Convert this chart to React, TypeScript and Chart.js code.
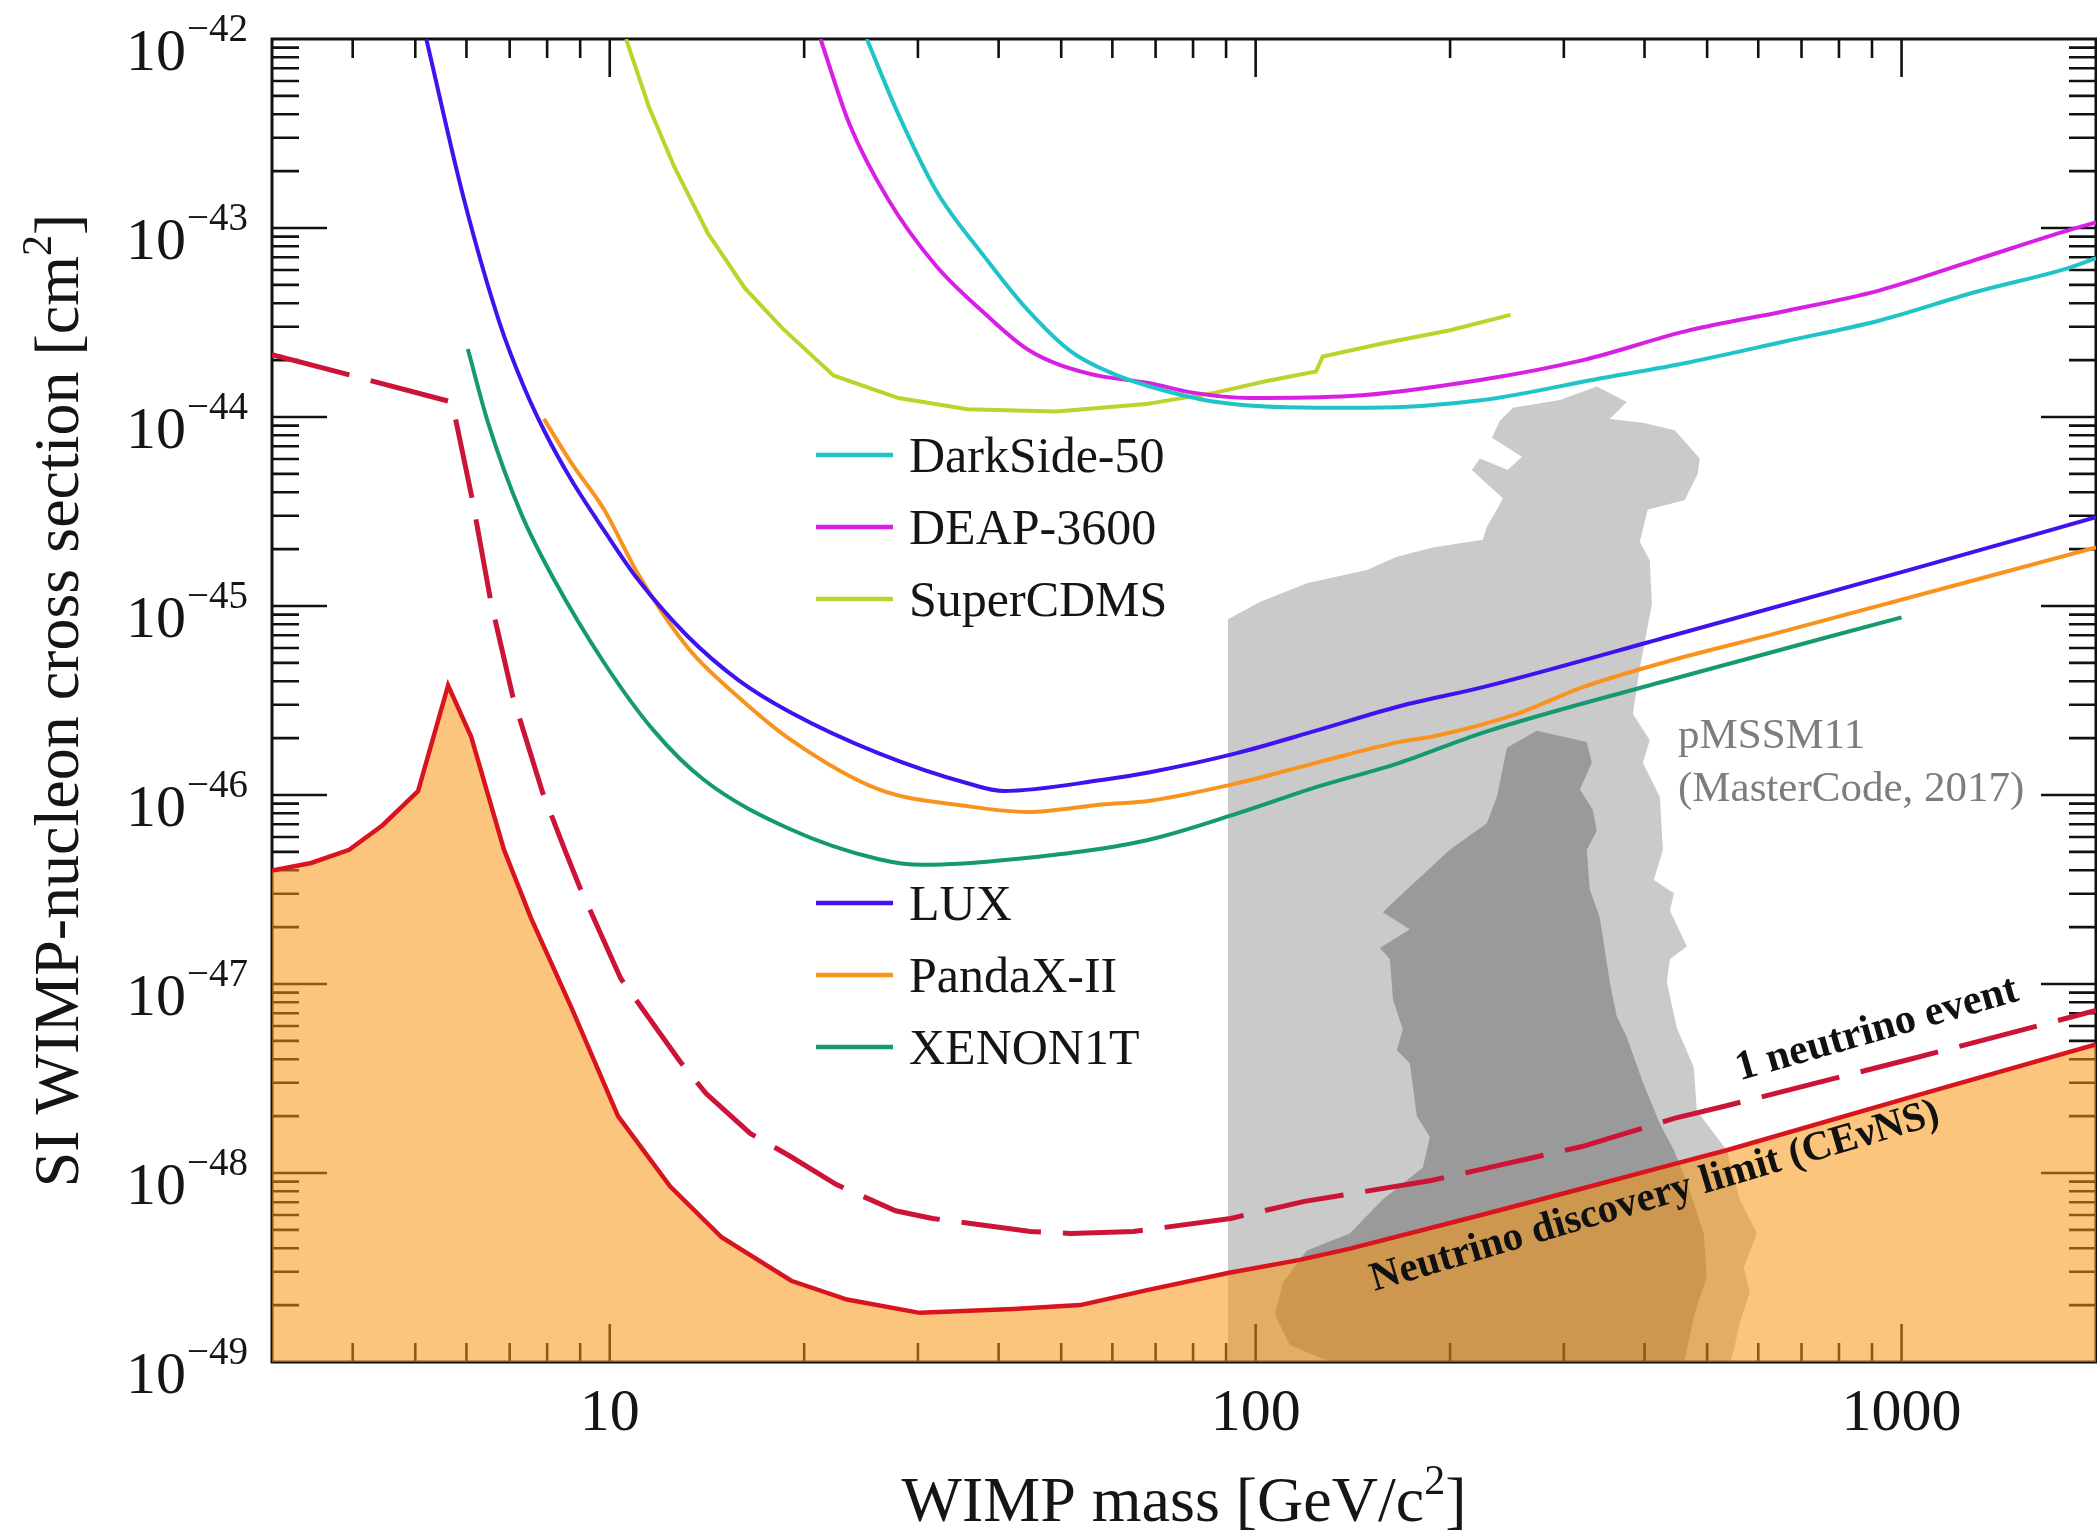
import React, { useEffect, useRef } from "react";
import { Chart, registerables } from "chart.js";

Chart.register(...registerables);

// ---------- axes ----------
const X_RANGE = [3, 2000];
const Y_RANGE = [1e-49, 1e-42];
const X_TICK_VALUES = [10, 100, 1000];
const X_TICK_LABELS = ["10", "100", "1000"];
const Y_TICK_VALUES = [1e-49, 1e-48, 1e-47, 1e-46, 1e-45, 1e-44, 1e-43, 1e-42];
const Y_TICK_EXPONENTS = ["\u221249", "\u221248", "\u221247", "\u221246", "\u221245", "\u221244", "\u221243", "\u221242"];
const X_TITLE = ["WIMP mass [GeV/c", "2", "]"];
const Y_TITLE = ["SI WIMP-nucleon cross section [cm", "2", "]"];

// ---------- experimental limits (mass in GeV/c^2, cross section in cm^2) ----------
const DARKSIDE_MASS = [25.0, 28, 32, 38, 44, 51.6, 60, 68.6, 87, 124, 150, 225, 335, 470, 659, 925, 1298, 1821, 2000];
const DARKSIDE_XSEC = [1.0e-42, 3.98e-43, 1.58e-43, 7.08e-44, 3.8e-44, 2.24e-44, 1.7e-44, 1.45e-44, 1.2e-44, 1.12e-44, 1.12e-44, 1.23e-44, 1.58e-44, 1.95e-44, 2.51e-44, 3.24e-44, 4.57e-44, 6.17e-44, 6.92e-44];

const DEAP_MASS = [21.2, 23.5, 27, 32, 38, 44.7, 55, 68.6, 79.4, 98, 140, 225, 321, 470, 659, 925, 1298, 1821, 2000];
const DEAP_XSEC = [1.0e-42, 3.55e-43, 1.41e-43, 6.31e-44, 3.55e-44, 2.24e-44, 1.7e-44, 1.51e-44, 1.35e-44, 1.26e-44, 1.29e-44, 1.58e-44, 2.0e-44, 2.88e-44, 3.63e-44, 4.68e-44, 6.76e-44, 9.77e-44, 1.07e-43];

const SUPERCDMS_MASS = [10.6, 11.5, 12.6, 14.2, 16.2, 18.5, 22.2, 28, 35.8, 49.2, 67.6, 87, 104, 124, 127, 157, 200, 248];
const SUPERCDMS_XSEC = [1.0e-42, 4.37e-43, 2.09e-43, 9.33e-44, 4.79e-44, 2.95e-44, 1.66e-44, 1.26e-44, 1.1e-44, 1.07e-44, 1.17e-44, 1.35e-44, 1.55e-44, 1.74e-44, 2.09e-44, 2.45e-44, 2.88e-44, 3.47e-44];

const LUX_MASS = [5.2, 5.95, 6.75, 7.36, 7.91, 8.71, 9.8, 11.06, 13.2, 15.8, 19, 26.1, 35.9, 40.7, 57.8, 68.6, 93.2, 124, 167, 225, 438, 1000, 2000];
const LUX_XSEC = [1.0e-42, 1.41e-43, 3.16e-44, 1.45e-44, 8.51e-45, 4.68e-45, 2.51e-45, 1.38e-45, 6.92e-46, 4.07e-46, 2.75e-46, 1.66e-46, 1.15e-46, 1.05e-46, 1.2e-46, 1.32e-46, 1.66e-46, 2.19e-46, 2.95e-46, 3.72e-46, 6.92e-46, 1.51e-45, 2.95e-45];

const PANDAX_MASS = [7.91, 8.71, 9.8, 11.06, 13.2, 15.8, 19.1, 26.1, 35.9, 44.4, 57.8, 68.6, 93.2, 124, 167, 188, 254, 321, 438, 630, 2000];
const PANDAX_XSEC = [9.77e-45, 5.75e-45, 3.24e-45, 1.48e-45, 6.03e-46, 3.31e-46, 1.95e-46, 1.07e-46, 8.71e-47, 8.13e-47, 8.91e-47, 9.33e-47, 1.15e-46, 1.48e-46, 1.91e-46, 2.04e-46, 2.69e-46, 3.72e-46, 5.13e-46, 7.08e-46, 2.04e-45];

const XENON_MASS = [6.03, 6.48, 7.29, 8.2, 9.8, 11.7, 14.0, 19, 26.1, 30.5, 42.1, 67.6, 93.2, 124, 167, 225, 438, 1000];
const XENON_XSEC = [2.29e-44, 9.33e-45, 3.09e-45, 1.38e-45, 5.01e-46, 2.19e-46, 1.2e-46, 6.61e-47, 4.57e-47, 4.27e-47, 4.57e-47, 5.75e-47, 7.94e-47, 1.1e-46, 1.48e-46, 2.14e-46, 4.07e-46, 8.71e-46];

// ---------- neutrino floor ----------
const FLOOR_MASS = [3, 3.45, 3.95, 4.45, 5.05, 5.62, 6.1, 6.86, 7.55, 8.71, 10.3, 12.4, 14.9, 19.1, 23.3, 30.2, 42.1, 53.5, 67.9, 90.2, 117, 140, 225, 314, 438, 536, 1030, 2000];
const FLOOR_XSEC = [3.98e-47, 4.37e-47, 5.13e-47, 6.92e-47, 1.05e-46, 3.8e-46, 2.04e-46, 5.13e-47, 2.24e-47, 7.59e-48, 2.0e-48, 8.51e-49, 4.57e-49, 2.69e-49, 2.14e-49, 1.82e-49, 1.91e-49, 2.0e-49, 2.4e-49, 2.95e-49, 3.47e-49, 3.98e-49, 6.03e-49, 8.13e-49, 1.1e-48, 1.32e-48, 2.51e-48, 4.79e-48];

const ONE_NU_MASS = [3, 5.7, 6.13, 6.54, 7.08, 7.88, 8.52, 8.99, 10.4, 12.85, 14.1, 16.5, 19, 22.4, 27.7, 31.6, 44.8, 51.7, 64.7, 91.5, 119, 187, 320, 446, 528, 1052, 2000];
const ONE_NU_XSEC = [2.14e-44, 1.2e-44, 3.63e-45, 1.07e-45, 3.31e-46, 1.02e-46, 5.13e-47, 3.24e-47, 1.07e-47, 3.89e-48, 2.63e-48, 1.62e-48, 1.23e-48, 8.71e-49, 6.31e-49, 5.75e-49, 4.9e-49, 4.79e-49, 4.9e-49, 5.75e-49, 7.08e-49, 9.12e-49, 1.38e-48, 1.95e-48, 2.24e-48, 4.07e-48, 7.24e-48];

// ---------- pMSSM11 regions (outline vertices) ----------
const PMSSM_OUTER_MASS = [90.6, 90.6, 101.5, 120, 148.6, 165.4, 188.1, 224.7, 228, 236.3, 241.4, 216.1, 222.4, 245.7, 258.3, 232.1, 238.8, 250.2, 295.8, 337.5, 375.5, 353.4, 397.6, 445.6, 487.0, 483.5, 461.6, 404.7, 393.3, 407.6, 410.6, 393.3, 383.7, 407.6, 397.6, 422.5, 427.1, 413.4, 444.2, 437.9, 465.2, 437.9, 433.1, 448.7, 476.7, 482.0, 517.5, 536.3, 561.7, 597.0, 569.8, 582.1, 561.7, 549.9, 542.1];
const PMSSM_OUTER_XSEC = [1.0e-49, 8.51e-46, 1.05e-45, 1.32e-45, 1.55e-45, 1.82e-45, 2.04e-45, 2.24e-45, 2.63e-45, 3.24e-45, 3.72e-45, 5.25e-45, 6.03e-45, 5.25e-45, 6.17e-45, 7.76e-45, 9.55e-45, 1.12e-44, 1.23e-44, 1.45e-44, 1.2e-44, 9.77e-45, 9.33e-45, 8.51e-45, 6.03e-45, 5.01e-45, 3.63e-45, 3.24e-45, 2.19e-45, 1.74e-45, 1.02e-45, 4.68e-46, 2.69e-46, 1.95e-46, 1.48e-46, 9.77e-47, 5.13e-47, 3.55e-47, 3.02e-47, 2.45e-47, 1.58e-47, 1.35e-47, 1.02e-47, 5.89e-48, 3.63e-48, 2.14e-48, 1.55e-48, 1.32e-48, 7.24e-49, 4.79e-49, 3.16e-49, 2.34e-49, 1.62e-49, 1.15e-49, 1.0e-49];

const PMSSM_INNER_MASS = [130.3, 113.0, 107.1, 110.2, 120.0, 139.9, 157.3, 181.5, 186.1, 177.6, 173.3, 165.4, 169.0, 163.1, 161.4, 155.7, 173.3, 157.3, 169.0, 199.8, 228.0, 236.3, 244.9, 272.5, 325.6, 331.5, 317.7, 332.7, 337.5, 325.6, 329.1, 341.1, 353.4, 362.3, 375.5, 397.6, 422.5, 444.2, 465.2, 494.0, 499.4, 476.7, 465.2, 460.3];
const PMSSM_INNER_XSEC = [1.0e-49, 1.23e-49, 1.78e-49, 2.63e-49, 3.89e-49, 4.79e-49, 7.24e-49, 1.07e-48, 1.55e-48, 2.0e-48, 3.8e-48, 4.47e-48, 5.75e-48, 8.32e-48, 1.35e-47, 1.55e-47, 1.95e-47, 2.4e-47, 3.02e-47, 5.13e-47, 7.08e-47, 9.77e-47, 1.78e-46, 2.19e-46, 1.91e-46, 1.48e-46, 1.07e-46, 8.32e-47, 6.46e-47, 5.13e-47, 3.16e-47, 2.24e-47, 1.02e-47, 6.76e-48, 5.25e-48, 3.02e-48, 1.82e-48, 1.32e-48, 8.91e-49, 4.79e-49, 2.82e-49, 1.74e-49, 1.15e-49, 1.0e-49];

// ---------- legend / annotation text ----------
const LEGEND_GROUP_TOP = ["DarkSide-50", "DEAP-3600", "SuperCDMS"];
const LEGEND_GROUP_BOTTOM = ["LUX", "PandaX-II", "XENON1T"];
const PMSSM_LABEL = ["pMSSM11", "(MasterCode, 2017)"];
const ONE_NU_LABEL = "1 neutrino event";
const FLOOR_LABEL = "Neutrino discovery limit (CE\u03bdNS)";

const COLORS: Record<string, string> = {
  "DarkSide-50": "#20c4c8",
  "DEAP-3600": "#d820e4",
  SuperCDMS: "#bdd22a",
  LUX: "#3f12ee",
  "PandaX-II": "#f8941e",
  XENON1T: "#149a6e",
};

const SERIF = '"Liberation Serif", "Times New Roman", Times, serif';

function pts(m: number[], s: number[]) {
  return m.map((x, i) => ({ x, y: s[i] }));
}

function drawFrameAndTicks(chart: any) {
  const { ctx, chartArea: a, scales } = chart;
  const xs = scales.x;
  const ys = scales.y;
  ctx.save();
  ctx.strokeStyle = "#111";
  ctx.lineWidth = 2.6;
  ctx.beginPath();
  for (let k = -49; k < -42; k++) {
    for (let m = 1; m <= 9; m++) {
      if (k === -49 && m === 1) continue;
      const y = ys.getPixelForValue(m * Math.pow(10, k));
      const len = m === 1 ? 55 : 27;
      ctx.moveTo(a.left, y);
      ctx.lineTo(a.left + len, y);
      ctx.moveTo(a.right, y);
      ctx.lineTo(a.right - len, y);
    }
  }
  for (let d = 0; d <= 3; d++) {
    for (let m = 1; m <= 9; m++) {
      const v = m * Math.pow(10, d);
      if (v <= X_RANGE[0] || v >= X_RANGE[1]) continue;
      const x = xs.getPixelForValue(v);
      const len = m === 1 ? 38 : 19;
      ctx.moveTo(x, a.bottom);
      ctx.lineTo(x, a.bottom - len);
      ctx.moveTo(x, a.top);
      ctx.lineTo(x, a.top + len);
    }
  }
  ctx.stroke();
  ctx.lineWidth = 3;
  ctx.strokeRect(a.left, a.top, a.right - a.left, a.bottom - a.top);
  ctx.restore();
}

function drawSupText(ctx: CanvasRenderingContext2D, parts: string[], cx: number, baseline: number, size: number) {
  const supSize = Math.round(size * 0.65);
  ctx.font = `${size}px ${SERIF}`;
  const w1 = ctx.measureText(parts[0]).width;
  const w3 = ctx.measureText(parts[2]).width;
  ctx.font = `${supSize}px ${SERIF}`;
  const w2 = ctx.measureText(parts[1]).width;
  const total = w1 + w2 + w3;
  let x = cx - total / 2;
  ctx.textAlign = "left";
  ctx.textBaseline = "alphabetic";
  ctx.font = `${size}px ${SERIF}`;
  ctx.fillText(parts[0], x, baseline);
  x += w1;
  ctx.font = `${supSize}px ${SERIF}`;
  ctx.fillText(parts[1], x, baseline - size * 0.42);
  x += w2;
  ctx.font = `${size}px ${SERIF}`;
  ctx.fillText(parts[2], x, baseline);
}

function drawAxisLabels(chart: any) {
  const { ctx, chartArea: a, scales } = chart;
  const xs = scales.x;
  const ys = scales.y;
  ctx.save();
  ctx.fillStyle = "#151515";
  ctx.textBaseline = "alphabetic";
  const right = a.left - 24;
  Y_TICK_VALUES.forEach((v, i) => {
    const y = ys.getPixelForValue(v);
    ctx.textAlign = "right";
    ctx.font = `39px ${SERIF}`;
    ctx.fillText(Y_TICK_EXPONENTS[i], right, y + 2);
    const w = ctx.measureText(Y_TICK_EXPONENTS[i]).width;
    ctx.font = `60px ${SERIF}`;
    ctx.fillText("10", right - w - 1, y + 31);
  });
  ctx.textAlign = "center";
  ctx.font = `60px ${SERIF}`;
  X_TICK_VALUES.forEach((v, i) => {
    ctx.fillText(X_TICK_LABELS[i], xs.getPixelForValue(v), a.bottom + 68);
  });
  drawSupText(ctx, X_TITLE, (a.left + a.right) / 2, a.bottom + 159, 64);
  ctx.translate(78, (a.top + a.bottom) / 2);
  ctx.rotate(-Math.PI / 2);
  drawSupText(ctx, Y_TITLE, 0, 0, 64);
  ctx.restore();
}

function drawLegendAndNotes(chart: any) {
  const { ctx, chartArea: a } = chart;
  ctx.save();
  const rows: [string, number][] = [
    [LEGEND_GROUP_TOP[0], 416],
    [LEGEND_GROUP_TOP[1], 488],
    [LEGEND_GROUP_TOP[2], 560],
    [LEGEND_GROUP_BOTTOM[0], 864],
    [LEGEND_GROUP_BOTTOM[1], 936],
    [LEGEND_GROUP_BOTTOM[2], 1008],
  ];
  ctx.lineWidth = 4.5;
  ctx.lineCap = "butt";
  ctx.font = `50px ${SERIF}`;
  ctx.textAlign = "left";
  ctx.textBaseline = "alphabetic";
  rows.forEach(([name, dy]) => {
    const y = a.top + dy;
    ctx.strokeStyle = COLORS[name];
    ctx.beginPath();
    ctx.moveTo(a.left + 544, y);
    ctx.lineTo(a.left + 621, y);
    ctx.stroke();
    ctx.fillStyle = "#151515";
    ctx.fillText(name, a.left + 637, y + 17);
  });

  // pMSSM11 label
  ctx.fillStyle = "#7d7d7d";
  ctx.font = `43px ${SERIF}`;
  ctx.fillText(PMSSM_LABEL[0], 1678, 748);
  ctx.fillText(PMSSM_LABEL[1], 1678, 801);

  // rotated notes
  ctx.fillStyle = "#111";
  ctx.textAlign = "center";
  ctx.textBaseline = "middle";
  const ang = (-16 * Math.PI) / 180;
  ctx.save();
  ctx.translate(1877, 1030);
  ctx.rotate(ang);
  ctx.font = `bold 42px ${SERIF}`;
  ctx.fillText(ONE_NU_LABEL, 0, 0);
  ctx.restore();
  ctx.save();
  ctx.translate(1655, 1197);
  ctx.rotate((-16.5 * Math.PI) / 180);
  ctx.font = `bold 41px ${SERIF}`;
  ctx.fillText(FLOOR_LABEL, 0, 0);
  ctx.restore();
  ctx.restore();
}

export default function App() {
  const ref = useRef<HTMLCanvasElement>(null);

  useEffect(() => {
    const canvas = ref.current;
    if (!canvas) return;

    const decor = {
      id: "decor",
      afterDatasetDraw(chart: any, args: any) {
        if (chart.data.datasets[args.index].label === "pMSSM11 inner") drawFrameAndTicks(chart);
      },
      afterDatasetsDraw(chart: any) {
        drawLegendAndNotes(chart);
      },
      afterDraw(chart: any) {
        drawAxisLabels(chart);
      },
    };

    const curve = (label: string, m: number[], s: number[], order: number, smooth = true) => ({
      label,
      data: pts(m, s),
      borderColor: COLORS[label],
      borderWidth: 4,
      fill: false,
      order,
      cubicInterpolationMode: smooth ? "monotone" : "default",
      tension: 0,
    });

    const chart = new Chart(canvas, {
      type: "line",
      data: {
        datasets: [
          {
            label: "pMSSM11 outer",
            data: pts(PMSSM_OUTER_MASS, PMSSM_OUTER_XSEC),
            borderColor: "rgba(0,0,0,0)",
            borderWidth: 1,
            backgroundColor: "#cacaca",
            fill: "shape",
            tension: 0,
            order: 20,
          },
          {
            label: "pMSSM11 inner",
            data: pts(PMSSM_INNER_MASS, PMSSM_INNER_XSEC),
            borderColor: "rgba(0,0,0,0)",
            borderWidth: 1,
            backgroundColor: "#9a9a9a",
            fill: "shape",
            tension: 0,
            order: 19,
          },
          {
            label: "Neutrino discovery limit",
            data: pts(FLOOR_MASS, FLOOR_XSEC),
            borderColor: "#d8141f",
            borderWidth: 4.5,
            backgroundColor: "rgba(248,150,19,0.55)",
            fill: "start",
            tension: 0,
            order: 18,
          },
          {
            label: "1 neutrino event",
            data: pts(ONE_NU_MASS, ONE_NU_XSEC),
            borderColor: "#cc1438",
            borderWidth: 5,
            borderDash: [80, 22],
            fill: false,
            tension: 0,
            order: 17,
          },
          curve("XENON1T", XENON_MASS, XENON_XSEC, 6),
          curve("PandaX-II", PANDAX_MASS, PANDAX_XSEC, 5),
          curve("LUX", LUX_MASS, LUX_XSEC, 4),
          curve("SuperCDMS", SUPERCDMS_MASS, SUPERCDMS_XSEC, 3, false),
          curve("DEAP-3600", DEAP_MASS, DEAP_XSEC, 2),
          curve("DarkSide-50", DARKSIDE_MASS, DARKSIDE_XSEC, 1),
        ] as any,
      },
      options: {
        animation: false,
        responsive: false,
        devicePixelRatio: 1,
        events: [],
        layout: { padding: { left: 272, top: 39, right: 1, bottom: 173 } },
        elements: { point: { radius: 0, hoverRadius: 0 } },
        plugins: {
          legend: { display: false },
          tooltip: { enabled: false },
          filler: { drawTime: "beforeDatasetDraw" } as any,
        },
        scales: {
          x: { type: "logarithmic", min: X_RANGE[0], max: X_RANGE[1], display: false },
          y: { type: "logarithmic", min: Y_RANGE[0], max: Y_RANGE[1], display: false },
        },
      },
      plugins: [decor],
    });

    return () => chart.destroy();
  }, []);

  return (
    <div style={{ position: "absolute", left: 0, top: 0, width: 2097, height: 1535, background: "#fff" }}>
      <canvas ref={ref} width={2097} height={1535} style={{ width: 2097, height: 1535, display: "block" }} />
    </div>
  );
}
